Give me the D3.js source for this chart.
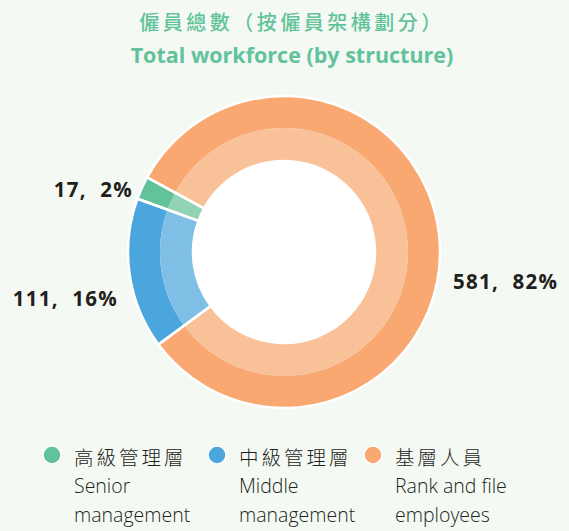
<!DOCTYPE html>
<html lang="zh-Hant">
  <head>
    <meta charset="UTF-8" />
    <title>Total workforce (by structure)</title>
    <script src="https://d3js.org/d3.v7.min.js"></script>
    <style>
      html, body { margin: 0; padding: 0; background: #f5f9f4; }
      svg { display: block; }
    </style>
  </head>
  <body>
    <svg id="chart" width="569" height="531"></svg>
    <script>
      const categoriesZh = ["基層人員", "中級管理層", "高級管理層"];
      const categoriesEn = [["Rank and file", "employees"], ["Middle", "management"], ["Senior", "management"]];
      const values = [581, 111, 17];
      const percents = [82, 16, 2];
      const outerColors = ["#f8a870", "#4aa6dc", "#62c39a"];
      const innerColors = ["#f9c198", "#80bfe5", "#92d3b6"];

      const svg = d3.select("#chart");
      const cx = 284, cy = 252;
      const rHole = 91, rMid = 124, rOuter = 156;

      svg.append("text")
        .attr("x", 292).attr("y", 30)
        .attr("text-anchor", "middle")
        .attr("fill", "#62c39a")
        .style("font-family", "'Noto Sans CJK TC', sans-serif")
        .style("font-weight", "500")
        .style("font-size", "20px")
        .style("letter-spacing", "3.5px")
        .text("僱員總數（按僱員架構劃分）");

      svg.append("text")
        .attr("x", 292).attr("y", 63)
        .attr("text-anchor", "middle")
        .attr("fill", "#62c39a")
        .style("font-family", "'Open Sans', sans-serif")
        .style("font-weight", "bold")
        .style("font-size", "21.5px")
        .text("Total workforce (by structure)");

      const startAngle = -61.4 * Math.PI / 180;
      const pie = d3.pie().sort(null).startAngle(startAngle).endAngle(startAngle + 2 * Math.PI);
      const arcs = pie(values);

      const outerArc = d3.arc().innerRadius(rMid).outerRadius(rOuter);
      const innerArc = d3.arc().innerRadius(rHole).outerRadius(rMid);

      const g = svg.append("g").attr("transform", `translate(${cx},${cy})`);

      g.selectAll("path.outer").data(arcs).enter().append("path")
        .attr("class", "outer")
        .attr("d", outerArc)
        .attr("fill", (d, i) => outerColors[i]);

      g.selectAll("path.inner").data(arcs).enter().append("path")
        .attr("class", "inner")
        .attr("d", innerArc)
        .attr("fill", (d, i) => innerColors[i]);

      // white separators and outline
      const fullArc = d3.arc().innerRadius(rHole).outerRadius(rOuter);
      g.selectAll("path.sep").data(arcs).enter().append("path")
        .attr("class", "sep")
        .attr("d", fullArc)
        .attr("fill", "none")
        .attr("stroke", "#fff")
        .attr("stroke-width", 2.5);

      g.append("circle").attr("r", rHole).attr("fill", "#fff");

      // value labels
      const labelPos = [[453, 289, "start"], [118, 306, "end"], [133, 197, "end"]];
      values.forEach((v, i) => {
        svg.append("text")
          .attr("x", labelPos[i][0]).attr("y", labelPos[i][1])
          .attr("text-anchor", labelPos[i][2])
          .attr("fill", "#231f20")
          .style("font-family", "'Open Sans', sans-serif")
          .style("font-weight", "bold")
          .style("font-size", "20.5px")
          .style("letter-spacing", "1.3px")
          .text(`${v},\u00a0\u00a0${percents[i]}%`);
      });

      // legend (order: senior, middle, rank)
      const legendX = [52, 217, 373];
      const legendOrder = [2, 1, 0];
      legendOrder.forEach((idx, k) => {
        const lg = svg.append("g").attr("transform", `translate(${legendX[k]},455)`);
        lg.append("circle").attr("r", 9).attr("fill", outerColors[idx])
          .attr("stroke", "#fff").attr("stroke-width", 1.5);
        lg.append("text")
          .attr("x", 22).attr("y", 10)
          .attr("fill", "#231f20")
          .style("font-family", "'Noto Sans CJK TC', sans-serif")
          .style("font-weight", "300")
          .style("font-size", "19.5px")
          .style("letter-spacing", "3px")
          .text(categoriesZh[idx]);
        categoriesEn[idx].forEach((line, j) => {
          lg.append("text")
            .attr("x", 22).attr("y", 38 + j * 29)
            .attr("fill", "#231f20")
            .style("font-family", "'Open Sans', sans-serif")
            .style("font-weight", "300")
            .style("font-size", "19.5px")
            .text(line);
        });
      });
    </script>
  </body>
</html>
